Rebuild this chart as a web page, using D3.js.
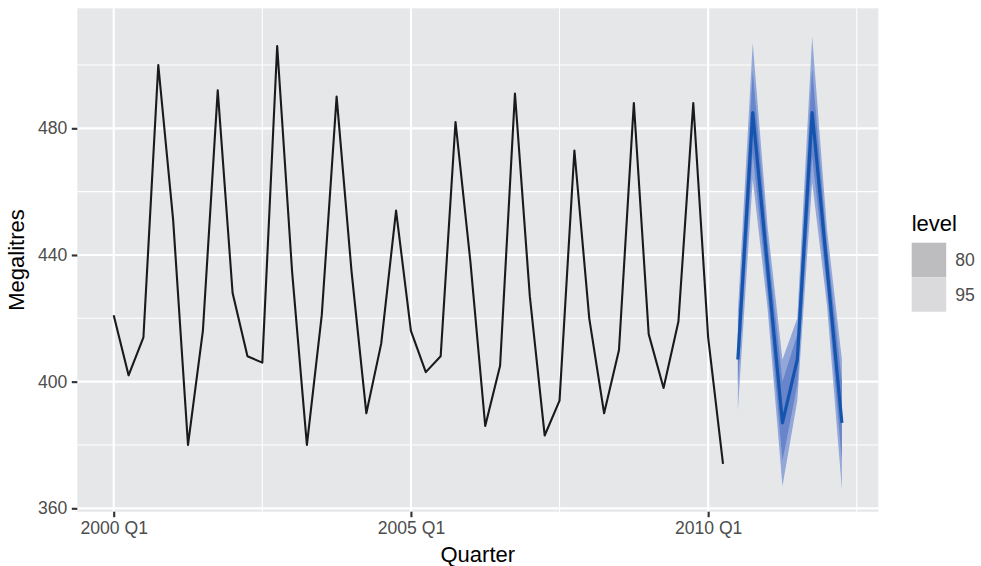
<!DOCTYPE html>
<html>
<head>
<meta charset="utf-8">
<script src="https://cdn.jsdelivr.net/npm/d3@7"></script>
<style>
  body { margin: 0; background: #fff; }
  text { font-family: "Liberation Sans", Arial, sans-serif; }
</style>
</head>
<body>
<script>
// quarterly beer production, 2000 Q1 .. 2010 Q2
let startQuarter = "2000 Q1";
let beer = [
    421, 402, 414, 500,
    451, 380, 416, 492,
    428, 408, 406, 506,
    435, 380, 421, 490,
    435, 390, 412, 454,
    416, 403, 408, 482,
    438, 386, 405, 491,
    427, 383, 394, 473,
    420, 390, 410, 488,
    415, 398, 419, 488,
    414, 374
];

// forecasts 2010 Q3 .. 2012 Q2
let fcStart = "2010 Q3";
let fcMean = [407, 485, 436, 387, 407, 485, 436, 387];
let lo80 = [399, 472, 428, 375, 399, 471, 429, 375];
let hi80 = [415, 498, 444, 400, 415, 499, 443, 400];
let lo95 = [391, 464, 423, 367, 394, 463, 424, 366];
let hi95 = [422, 507, 449, 407, 420, 509, 448, 407];

let xTicks = ["2000 Q1", "2005 Q1", "2010 Q1"];
let xMinor = [2002.5, 2007.5, 2012.5];
let yTicks = [360, 400, 440, 480];
let yMinor = [380, 420, 460, 500];
let levels = ["80", "95"];

// "2000 Q1" -> 2000.0
function qtime(label) {
    let parts = label.split(" Q");
    return +parts[0] + (+parts[1] - 1) / 4;
}

window.onload = drawChart();

function drawChart(){
    let width = 981;
    let height = 566;
    let panel = {left: 77.3, right: 878.3, top: 8.3, bottom: 511.7};

    let svg = d3.select("body")
        .append("svg")
        .attr("width", width)
        .attr("height", height);

    let t0 = qtime(startQuarter);
    let f0 = qtime(fcStart);
    let hist = beer.map((v, i) => ({t: t0 + i / 4, v: v}));
    let fc = fcMean.map((v, i) => ({
        t: f0 + i / 4, v: v,
        lo80: lo80[i], hi80: hi80[i], lo95: lo95[i], hi95: hi95[i]
    }));

    // ggplot-style 5% expansion on x
    let tMin = d3.min(hist, d => d.t);
    let tMax = d3.max(fc, d => d.t);
    let pad = (tMax - tMin) * 0.05;

    let x = d3.scaleLinear()
        .domain([tMin - pad, tMax + pad])
        .range([panel.left, panel.right]);

    let y = d3.scaleLinear()
        .domain([358.93, 517.9])
        .range([panel.bottom, panel.top]);

    // panel background
    svg.append("rect")
        .attr("x", panel.left)
        .attr("y", panel.top)
        .attr("width", panel.right - panel.left)
        .attr("height", panel.bottom - panel.top)
        .attr("fill", "#E6E7E9");

    // minor grid
    svg.selectAll(".yMinor")
        .data(yMinor)
        .enter()
        .append("line")
        .attr("x1", panel.left).attr("x2", panel.right)
        .attr("y1", d => y(d)).attr("y2", d => y(d))
        .attr("stroke", "#fff").attr("stroke-width", 1.07);

    svg.selectAll(".xMinor")
        .data(xMinor)
        .enter()
        .append("line")
        .attr("y1", panel.top).attr("y2", panel.bottom)
        .attr("x1", d => x(d)).attr("x2", d => x(d))
        .attr("stroke", "#fff").attr("stroke-width", 1.07);

    // major grid
    svg.selectAll(".yMajor")
        .data(yTicks)
        .enter()
        .append("line")
        .attr("x1", panel.left).attr("x2", panel.right)
        .attr("y1", d => y(d)).attr("y2", d => y(d))
        .attr("stroke", "#fff").attr("stroke-width", 2.13);

    svg.selectAll(".xMajor")
        .data(xTicks)
        .enter()
        .append("line")
        .attr("y1", panel.top).attr("y2", panel.bottom)
        .attr("x1", d => x(qtime(d))).attr("x2", d => x(qtime(d)))
        .attr("stroke", "#fff").attr("stroke-width", 2.13);

    // forecast intervals
    let area95 = d3.area()
        .x(d => x(d.t))
        .y0(d => y(d.lo95))
        .y1(d => y(d.hi95));

    let area80 = d3.area()
        .x(d => x(d.t))
        .y0(d => y(d.lo80))
        .y1(d => y(d.hi80));

    svg.append("path")
        .datum(fc)
        .attr("d", area95)
        .attr("fill", "#93A8D9");

    svg.append("path")
        .datum(fc)
        .attr("d", area80)
        .attr("fill", "#6884CA");

    let line = d3.line()
        .x(d => x(d.t))
        .y(d => y(d.v));

    svg.append("path")
        .datum(hist)
        .attr("d", line)
        .attr("fill", "none")
        .attr("stroke", "#1a1a1a")
        .attr("stroke-width", 2.1)
        .attr("stroke-linejoin", "round");

    svg.append("path")
        .datum(fc)
        .attr("d", line)
        .attr("fill", "none")
        .attr("stroke", "#1555AE")
        .attr("stroke-width", 3.2)
        .attr("stroke-linejoin", "round");

    // axes
    let xAxis = d3.axisBottom(x)
        .tickValues(xTicks.map(qtime))
        .tickFormat((d, i) => xTicks[i])
        .tickSize(5.5)
        .tickPadding(4.4);

    let yAxis = d3.axisLeft(y)
        .tickValues(yTicks)
        .tickSize(5.5)
        .tickPadding(4.4);

    let gx = svg.append("g")
        .attr("transform", "translate(0," + panel.bottom + ")")
        .call(xAxis);

    let gy = svg.append("g")
        .attr("transform", "translate(" + panel.left + ",0)")
        .call(yAxis);

    [gx, gy].forEach(g => {
        g.select(".domain").remove();
        g.selectAll(".tick line")
            .attr("stroke", "#333333")
            .attr("stroke-width", 2.13);
        g.selectAll(".tick text")
            .attr("fill", "#4D4D4D")
            .style("font-size", "17.6px");
    });

    // axis titles
    svg.append("text")
        .attr("x", (panel.left + panel.right) / 2)
        .attr("y", 562)
        .attr("text-anchor", "middle")
        .style("font-size", "22px")
        .attr("fill", "#000")
        .text("Quarter");

    svg.append("text")
        .attr("transform", "translate(24," + (panel.top + panel.bottom) / 2 + ") rotate(-90)")
        .attr("text-anchor", "middle")
        .style("font-size", "22px")
        .attr("fill", "#000")
        .text("Megalitres");

    // legend
    let legend = svg.append("g")
        .attr("transform", "translate(911.7,0)");

    legend.append("text")
        .attr("x", 0)
        .attr("y", 231)
        .style("font-size", "22px")
        .attr("fill", "#000")
        .text("level");

    let keyFill = d3.scaleOrdinal()
        .domain(levels)
        .range(["#BDBDBF", "#DADADC"]);

    let keys = legend.selectAll(".key")
        .data(levels)
        .enter()
        .append("g")
        .attr("transform", (d, i) => "translate(0," + (242.7 + i * 34.5) + ")");

    keys.append("rect")
        .attr("width", 34.5)
        .attr("height", 34.5)
        .attr("fill", d => keyFill(d));

    keys.append("text")
        .attr("x", 43.5)
        .attr("y", 17.25)
        .attr("dy", "0.35em")
        .style("font-size", "17.6px")
        .attr("fill", "#4D4D4D")
        .text(d => d);
}
</script>
</body>
</html>
